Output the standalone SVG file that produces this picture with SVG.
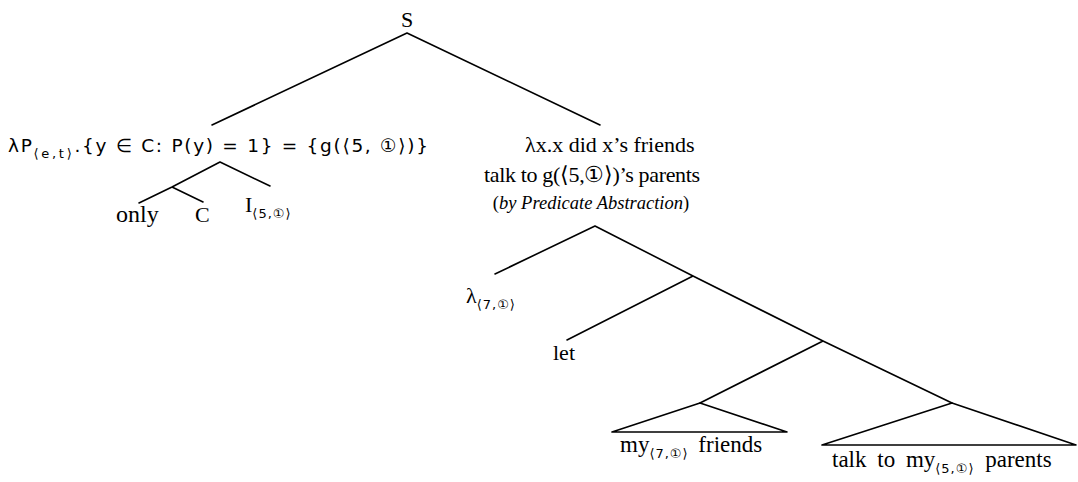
<svg xmlns="http://www.w3.org/2000/svg" width="1078" height="482" viewBox="0 0 1078 482">
<style>
.e{stroke:#000;stroke-width:1.6;fill:none;stroke-linecap:round;stroke-linejoin:round}
.t{font-family:"Liberation Serif",serif;font-size:22px;fill:#000}
.m{font-family:"DejaVu Sans","Liberation Sans",sans-serif;font-size:18.5px;fill:#000}
.s{font-family:"DejaVu Sans","Liberation Sans",sans-serif;font-size:13px;letter-spacing:1px}
.i{font-style:italic}
</style>
<rect width="1078" height="482" fill="#fff"/>
<g id="edges">
<path class="e" d="M407,33 L212,125 M407,33 L600,125"/>
<path class="e" d="M220,162 L270,186 M220,162 L172,187 L139,203 M172,187 L203,202"/>
<path class="e" d="M595,226 L495,274 M595,226 L693,276 L823,341 L952,403 M693,276 L567,340 M823,341 L700,403"/>
<path class="e" d="M700,403 L612,432 L787,432 Z"/>
<path class="e" d="M952,403 L822,445 L1076,445 Z"/>
</g>
<g id="n-S"><text class="t" x="407" y="27" text-anchor="middle">S</text></g>
<g id="n-left"><text class="m" x="8" y="152" textLength="420" lengthAdjust="spacing">λP<tspan class="s" dy="6">⟨e,t⟩</tspan><tspan dy="-6">.{y ∈ C: P(y) = 1} = {g(⟨5, ①⟩)}</tspan></text></g>
<g id="n-only"><text class="t" x="116" y="222" style="font-size:24px">only</text></g>
<g id="n-C"><text class="t" x="195" y="222">C</text></g>
<g id="n-I"><text class="t" x="245" y="212">I<tspan class="s" dy="6">⟨5,①⟩</tspan></text></g>
<g id="n-right">
<text class="t" x="525" y="152">λx.x did x’s friends</text>
<text class="t" x="484" y="182" textLength="216" lengthAdjust="spacing">talk to g(⟨5,①⟩)’s parents</text>
<text class="t" x="591" y="209" text-anchor="middle" style="font-size:18.5px">(<tspan class="i">by Predicate Abstraction</tspan>)</text>
</g>
<g id="n-lambda"><text class="t" x="466" y="303">λ<tspan class="s" dy="6">⟨7,①⟩</tspan></text></g>
<g id="n-let"><text class="t" x="553" y="360">let</text></g>
<g id="n-my"><text class="t" x="620" y="452" style="font-size:23px;word-spacing:4px">my<tspan class="s" dy="6">⟨7,①⟩</tspan><tspan dy="-6"> friends</tspan></text></g>
<g id="n-talk"><text class="t" x="832" y="467" style="font-size:23px;word-spacing:5px">talk to my<tspan class="s" dy="6">⟨5,①⟩</tspan><tspan dy="-6"> parents</tspan></text></g>
</svg>
